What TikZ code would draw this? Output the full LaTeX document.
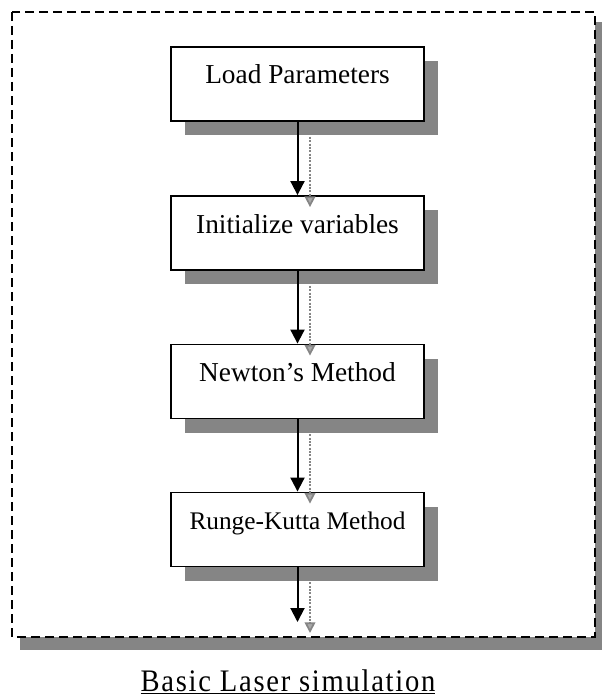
\documentclass[tikz,border=0pt]{standalone}
\usepackage{fontspec}
\setmainfont{Liberation Serif}
\newfontfamily\capfont[LetterSpace=6]{Liberation Serif}
\usetikzlibrary{arrows.meta,shadows}
\definecolor{shadowc}{gray}{0.52}
\tikzset{
  stepbox/.style={draw=black, line width=1.4pt, fill=white,
    minimum width=189.75pt, minimum height=55.5pt, inner sep=0pt,
    text height=9pt, text depth=9pt, font=\fontsize{20.5}{24}\selectfont,
    general shadow={fill=shadowc, shadow xshift=10.5pt, shadow yshift=-10.5pt}},
  arr/.style={line width=1.5pt, -{Triangle[length=10.5pt,width=10.5pt]}},
  sharr/.style={draw=shadowc, line width=1.3pt, dash pattern=on 1.5pt off 1pt,
    -{Triangle[length=8pt,width=8pt,fill=shadowc!70,color=shadowc]}},
  frame/.style={line width=1.4pt, dash pattern=on 6.5pt off 4pt}
}
\begin{document}
\begin{tikzpicture}[x=0.75pt,y=-0.75pt]
\useasboundingbox (0,0) rectangle (601,699);
% outer frame with shadow
\fill[shadowc] (20,22) rectangle (606,650);
\draw[frame, fill=white] (12,12) rectangle (595,637);
% boxes
\node[stepbox] (b1) at (297.5,84) {Load Parameters};
\node[stepbox] (b2) at (297.5,233) {Initialize variables};
\node[stepbox] (b3) at (297.5,381.5) {Newton’s Method};
\node[stepbox, font=\fontsize{19}{23}\selectfont] (b4) at (297.5,529.5) {Runge-Kutta Method};
\coordinate (end) at (297.5,622);
\coordinate (shend) at (310,633);
% shadow arrows
\draw[sharr] ([shift={(12.5,15)}]b1.south) -- ([shift={(12.5,12)}]b2.north);
\draw[sharr] ([shift={(12.5,15)}]b2.south) -- ([shift={(12.5,12)}]b3.north);
\draw[sharr] ([shift={(12.5,15)}]b3.south) -- ([shift={(12.5,12)}]b4.north);
\draw[sharr] ([shift={(12.5,15)}]b4.south) -- (shend);
% arrows
\draw[arr] (b1) -- (b2);
\draw[arr] (b2) -- (b3);
\draw[arr] (b3) -- (b4);
\draw[arr] (b4) -- (end);
% caption
\node[anchor=base, inner sep=0pt] (cap) at (288,691)
  {\resizebox{221pt}{\height}{\capfont\fontsize{23.5}{28}\selectfont\underline{Basic Laser simulation}}};
\end{tikzpicture}
\end{document}
